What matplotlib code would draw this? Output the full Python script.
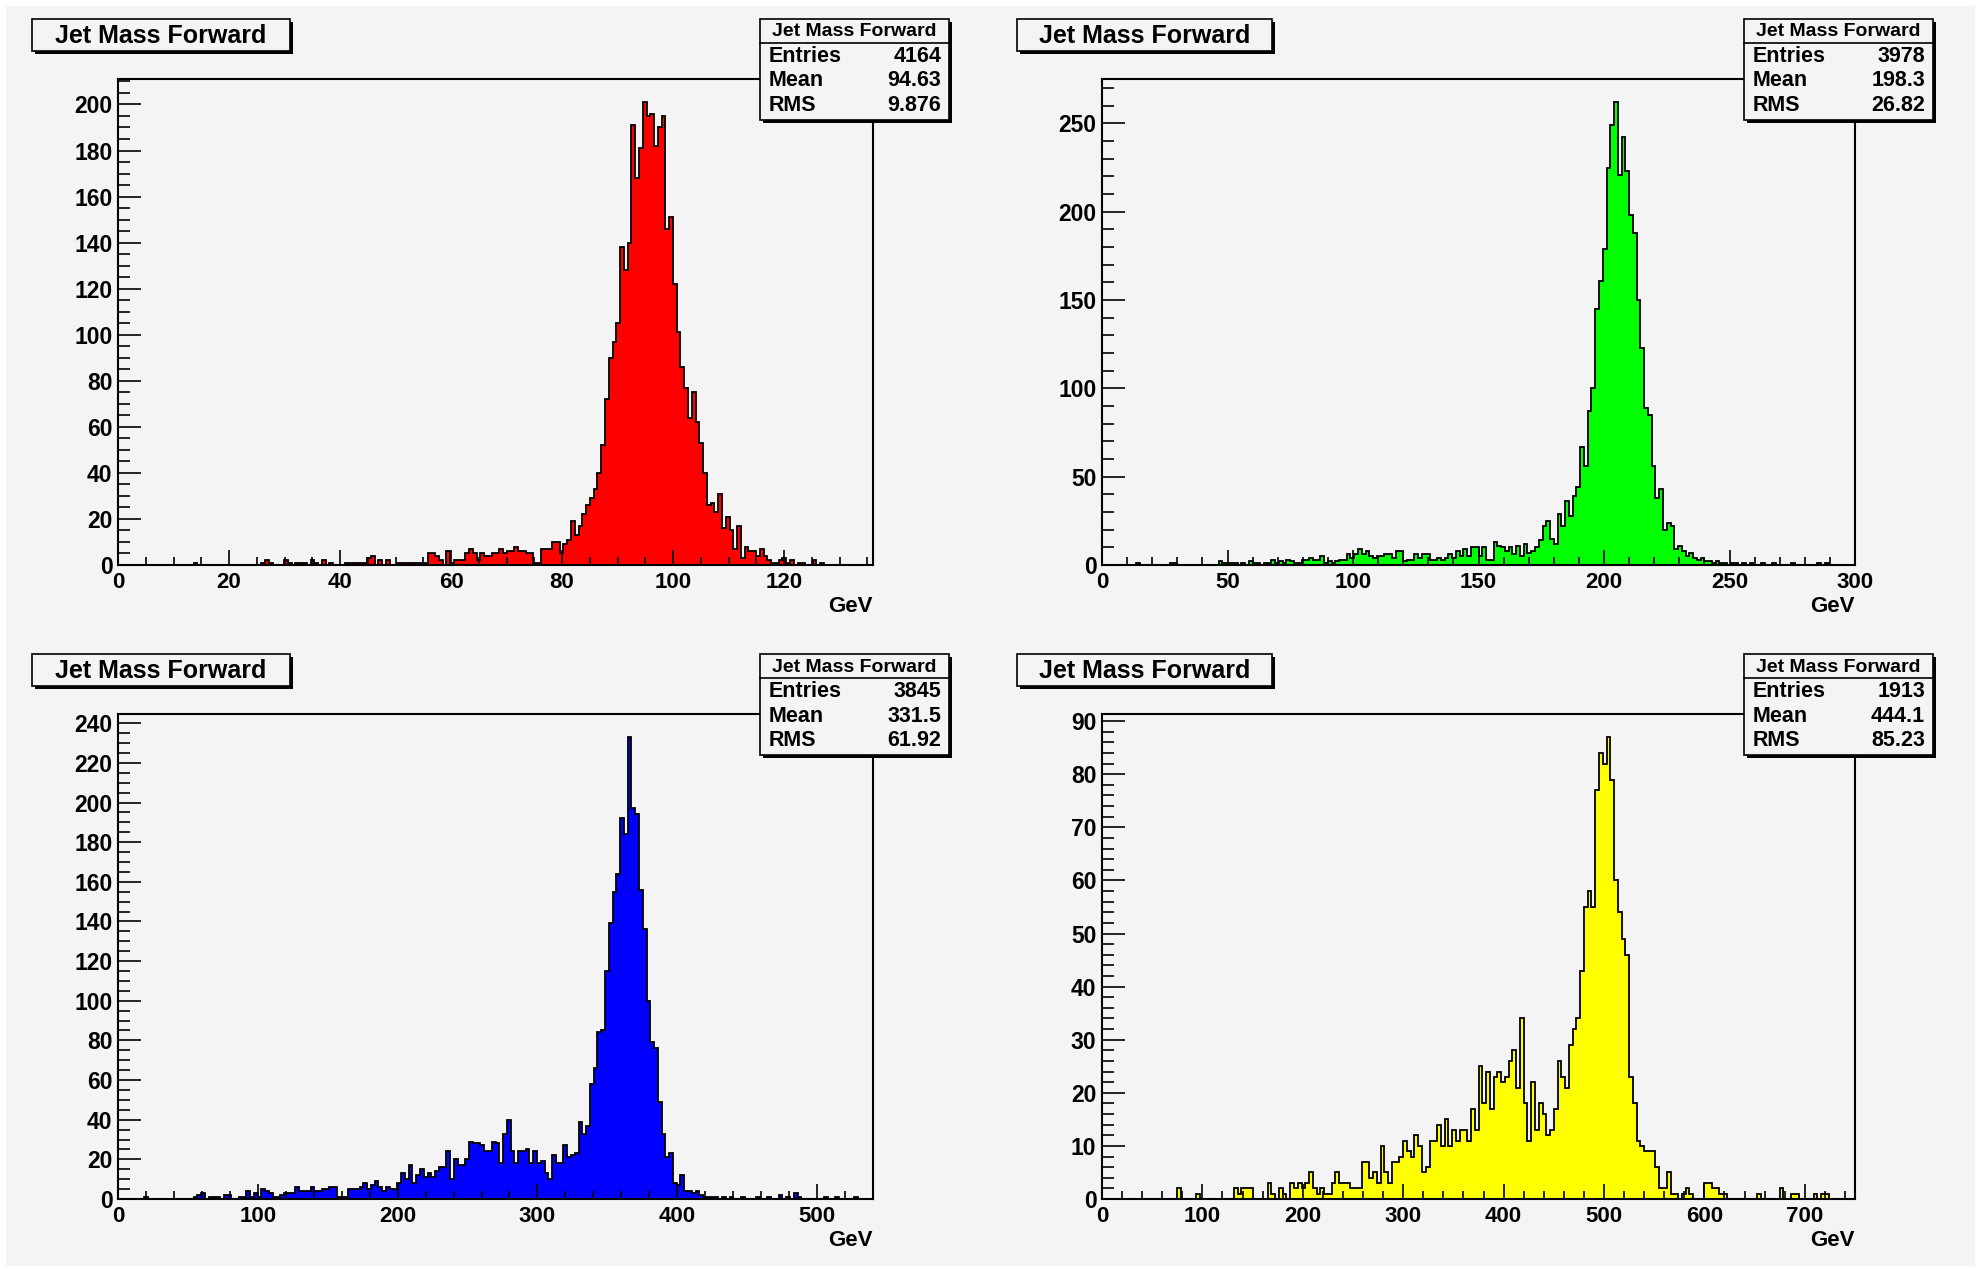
import numpy as np
import matplotlib
matplotlib.use("Agg")
import matplotlib.pyplot as plt
from matplotlib.patches import Rectangle
from matplotlib.ticker import MultipleLocator

plt.rcParams['font.family'] = ['Liberation Sans', 'DejaVu Sans']

W, H = 1979, 1269
BG = "#f4f4f4"

hist_title = "Jet Mass Forward"
x_unit = "GeV"
stat_labels = ["Entries", "Mean", "RMS"]

# ---------------- data ----------------
red_range = (0, 136)
red_counts = [
    0, 0, 0, 0, 0, 0, 0, 0, 0, 0,
    0, 0, 0, 0, 0, 0, 0, 0, 0, 0,
    1, 0, 0, 0, 0, 0, 0, 0, 0, 0,
    0, 0, 0, 0, 0, 0, 0, 0, 1, 2,
    1, 0, 0, 0, 2, 1, 0, 1, 1, 1,
    0, 2, 1, 0, 2, 0, 1, 0, 0, 0,
    1, 1, 1, 1, 1, 1, 3, 4, 0, 2,
    0, 2, 0, 0, 1, 1, 1, 1, 1, 1,
    1, 1, 5, 5, 4, 2, 0, 6, 1, 2,
    2, 2, 5, 7, 5, 2, 5, 4, 4, 5,
    5, 7, 5, 6, 6, 8, 6, 6, 5, 5,
    1, 1, 7, 7, 7, 10, 10, 5, 9, 11,
    19, 13, 17, 22, 26, 29, 33, 40, 52, 72,
    90, 97, 105, 138, 128, 140, 191, 168, 181, 201,
    195, 196, 182, 190, 195, 146, 151, 122, 101, 86,
    77, 64, 75, 62, 53, 40, 26, 27, 23, 31,
    16, 21, 15, 7, 17, 3, 8, 6, 6, 4,
    7, 4, 2, 1, 1, 2, 3, 1, 2, 0,
    1, 1, 0, 0, 2, 0, 1, 0, 0, 0,
    0, 0, 0, 0, 0, 0, 0, 0, 0, 0,
]

green_range = (0, 300)
green_counts = [
    0, 0, 0, 0, 0, 0, 0, 0, 0, 1,
    0, 0, 0, 0, 0, 0, 0, 0, 1, 1,
    0, 0, 0, 0, 0, 0, 0, 0, 0, 0,
    0, 2, 1, 1, 1, 1, 0, 1, 0, 2,
    1, 1, 0, 1, 1, 3, 1, 2, 1, 3,
    2, 1, 1, 3, 3, 4, 3, 3, 5, 1,
    2, 1, 2, 3, 3, 6, 4, 6, 9, 6,
    8, 5, 4, 5, 5, 6, 6, 4, 8, 8,
    2, 3, 3, 6, 4, 6, 6, 3, 3, 4,
    3, 4, 6, 4, 8, 5, 9, 5, 10, 10,
    5, 10, 3, 3, 13, 11, 10, 8, 10, 6,
    11, 5, 12, 7, 8, 10, 14, 22, 25, 15,
    12, 29, 22, 36, 28, 39, 44, 67, 56, 87,
    100, 145, 161, 179, 225, 249, 262, 221, 242, 223,
    198, 188, 150, 123, 89, 85, 56, 38, 43, 20,
    24, 22, 9, 11, 8, 5, 7, 4, 3, 4,
    2, 2, 1, 2, 1, 1, 0, 1, 1, 0,
    1, 0, 1, 0, 0, 1, 0, 0, 1, 0,
    0, 0, 0, 1, 0, 0, 0, 0, 0, 0,
    1, 0, 1, 0, 0, 0, 0, 0, 0, 0,
]

blue_range = (0, 540)
blue_counts = [
    0, 0, 0, 0, 0, 0, 0, 1, 0, 0,
    0, 0, 0, 0, 0, 0, 0, 0, 0, 0,
    1, 2, 3, 0, 1, 1, 1, 0, 2, 2,
    0, 0, 1, 1, 4, 1, 3, 1, 5, 4,
    3, 1, 1, 2, 3, 3, 3, 6, 4, 4,
    4, 6, 4, 4, 5, 5, 6, 6, 1, 1,
    1, 5, 5, 5, 6, 8, 5, 7, 9, 6,
    4, 6, 5, 5, 8, 13, 10, 17, 8, 12,
    15, 11, 13, 11, 14, 16, 16, 24, 10, 20,
    17, 17, 20, 29, 28, 28, 27, 24, 24, 29,
    28, 18, 33, 40, 24, 18, 24, 24, 25, 18,
    24, 18, 19, 13, 10, 22, 18, 18, 27, 21,
    22, 23, 39, 33, 37, 58, 66, 84, 85, 115,
    139, 155, 164, 192, 184, 233, 197, 194, 156, 136,
    100, 79, 76, 49, 33, 21, 23, 8, 7, 12,
    4, 4, 3, 4, 2, 1, 1, 1, 1, 0,
    1, 0, 1, 0, 0, 1, 0, 0, 0, 1,
    0, 0, 1, 0, 0, 2, 0, 1, 0, 3,
    1, 0, 0, 0, 0, 0, 0, 1, 0, 0,
    1, 0, 0, 0, 0, 1, 0, 0, 0, 0,
]

yellow_range = (0, 750)
yellow_counts = [
    0, 0, 0, 0, 0, 0, 0, 0, 0, 0,
    0, 0, 0, 0, 0, 0, 0, 0, 0, 0,
    2, 0, 0, 0, 0, 1, 0, 0, 0, 0,
    0, 0, 0, 0, 0, 2, 1, 2, 2, 2,
    0, 0, 0, 0, 3, 1, 0, 2, 1, 0,
    3, 2, 3, 2, 3, 5, 2, 1, 2, 1,
    1, 3, 5, 3, 3, 3, 2, 2, 2, 7,
    7, 4, 5, 3, 10, 5, 3, 7, 7, 8,
    11, 9, 8, 12, 10, 5, 6, 11, 11, 14,
    10, 15, 10, 13, 11, 13, 13, 11, 17, 13,
    25, 18, 24, 17, 23, 24, 22, 23, 26, 28,
    21, 34, 18, 11, 22, 13, 18, 16, 12, 13,
    17, 26, 23, 21, 29, 32, 34, 43, 55, 58,
    55, 77, 84, 82, 87, 79, 60, 54, 49, 46,
    23, 18, 11, 10, 9, 9, 9, 6, 2, 2,
    5, 1, 1, 0, 1, 2, 1, 0, 0, 0,
    3, 3, 2, 2, 1, 1, 0, 0, 0, 0,
    0, 0, 0, 0, 1, 0, 0, 0, 0, 0,
    2, 0, 0, 1, 1, 0, 0, 0, 0, 1,
    0, 1, 1, 0, 0, 0, 0, 0, 0, 0,
]

entries = [4164, 3978, 3845, 1913]
means = [94.63, 198.3, 331.5, 444.1]
rmss = [9.876, 26.82, 61.92, 85.23]

colors = ["#ff0000", "#00ff00", "#0000ff", "#ffff00"]
all_counts = [red_counts, green_counts, blue_counts, yellow_counts]
all_ranges = [red_range, green_range, blue_range, yellow_range]
x_major = [20, 50, 100, 100]
x_minor = [5, 10, 20, 20]
y_major = [20, 50, 20, 10]
y_minor = [5, 10, 5, 2]

# ---------------- layout (pixels) ----------------
frames = [(118, 79, 873, 565), (1102, 79, 1855, 565),
          (118, 714, 873, 1199), (1102, 714, 1855, 1199)]
title_boxes = [(32, 19, 290, 51), (1017, 19, 1272, 51),
               (32, 654, 290, 686), (1017, 654, 1272, 686)]
stat_boxes = [(760, 19, 949, 120), (1744, 19, 1933, 120),
              (760, 654, 949, 755), (1744, 654, 1933, 755)]

fig = plt.figure(figsize=(W / 100, H / 100), dpi=100)
fig.patch.set_facecolor("white")


def fx(x):
    return x / W


def fy(y):
    return 1 - y / H


def frect(x0, y0, x1, y1, **kw):
    r = Rectangle((fx(x0), fy(y1)), (x1 - x0) / W, (y1 - y0) / H,
                  transform=fig.transFigure, **kw)
    fig.add_artist(r)
    return r


# canvas background
frect(6, 6, 1975, 1266, facecolor=BG, edgecolor="none", zorder=-10)


def shadow_box(x0, y0, x1, y1):
    frect(x0 + 3, y0 + 3, x1 + 3, y1 + 3, facecolor="black",
          edgecolor="none", zorder=5)
    frect(x0, y0, x1, y1, facecolor=BG, edgecolor="black",
          linewidth=1.2, zorder=6)


for k in range(4):
    x0, y0, x1, y1 = frames[k]
    ax = fig.add_axes([fx(x0), fy(y1), (x1 - x0) / W, (y1 - y0) / H])
    ax.set_facecolor(BG)
    counts = np.array(all_counts[k], dtype=float)
    lo, hi = all_ranges[k]
    edges = np.linspace(lo, hi, len(counts) + 1)
    ax.stairs(counts, edges, fill=True, facecolor=colors[k],
              edgecolor="none", zorder=2)
    ax.stairs(counts, edges, fill=False, color="black", linewidth=1.3,
              zorder=3)
    ax.set_xlim(lo, hi)
    ax.set_ylim(0, counts.max() * 1.05)
    ax.xaxis.set_major_locator(MultipleLocator(x_major[k]))
    ax.xaxis.set_minor_locator(MultipleLocator(x_minor[k]))
    ax.yaxis.set_major_locator(MultipleLocator(y_major[k]))
    ax.yaxis.set_minor_locator(MultipleLocator(y_minor[k]))
    ax.tick_params(axis="y", which="major", direction="in", length=16.5,
                   width=1.2, labelsize=16.5, pad=4)
    ax.tick_params(axis="y", which="minor", direction="in", length=8.5,
                   width=1.2)
    ax.tick_params(axis="x", which="major", direction="in", length=11,
                   width=1.2, labelsize=16, pad=5)
    ax.tick_params(axis="x", which="minor", direction="in", length=5.5,
                   width=1.2)
    for lab in ax.get_xticklabels() + ax.get_yticklabels():
        lab.set_fontweight("bold")
    for sp in ax.spines.values():
        sp.set_linewidth(1.5)
        sp.set_zorder(4)
    ax.set_axisbelow(False)

    # x unit label
    fig.text(fx(x1), fy(y1 + 41), x_unit, ha="right", va="center",
             fontsize=16, fontweight="bold", zorder=7)

    # title box
    tx0, ty0, tx1, ty1 = title_boxes[k]
    shadow_box(tx0, ty0, tx1, ty1)
    fig.text(fx((tx0 + tx1) / 2), fy((ty0 + ty1) / 2 + 1), hist_title,
             ha="center", va="center", fontsize=18, fontweight="bold",
             zorder=7)

    # stats box
    sx0, sy0, sx1, sy1 = stat_boxes[k]
    shadow_box(sx0, sy0, sx1, sy1)
    sep = sy0 + 24
    fig.add_artist(plt.Line2D([fx(sx0), fx(sx1)], [fy(sep), fy(sep)],
                              transform=fig.transFigure, color="black",
                              linewidth=1.2, zorder=7))
    fig.text(fx((sx0 + sx1) / 2), fy(sy0 + 13), hist_title, ha="center",
             va="center", fontsize=14, fontweight="bold", zorder=7)
    vals = [f"{entries[k]}", f"{means[k]:.4g}", f"{rmss[k]:.4g}"]
    for j, (lab, val) in enumerate(zip(stat_labels, vals)):
        yy = sy0 + 37.5 + j * 24.5
        fig.text(fx(sx0 + 9), fy(yy), lab, ha="left", va="center",
                 fontsize=15.5, fontweight="bold", zorder=7)
        fig.text(fx(sx1 - 8), fy(yy), val, ha="right", va="center",
                 fontsize=15.5, fontweight="bold", zorder=7)

fig.savefig("out.png", dpi=100, facecolor="white")
